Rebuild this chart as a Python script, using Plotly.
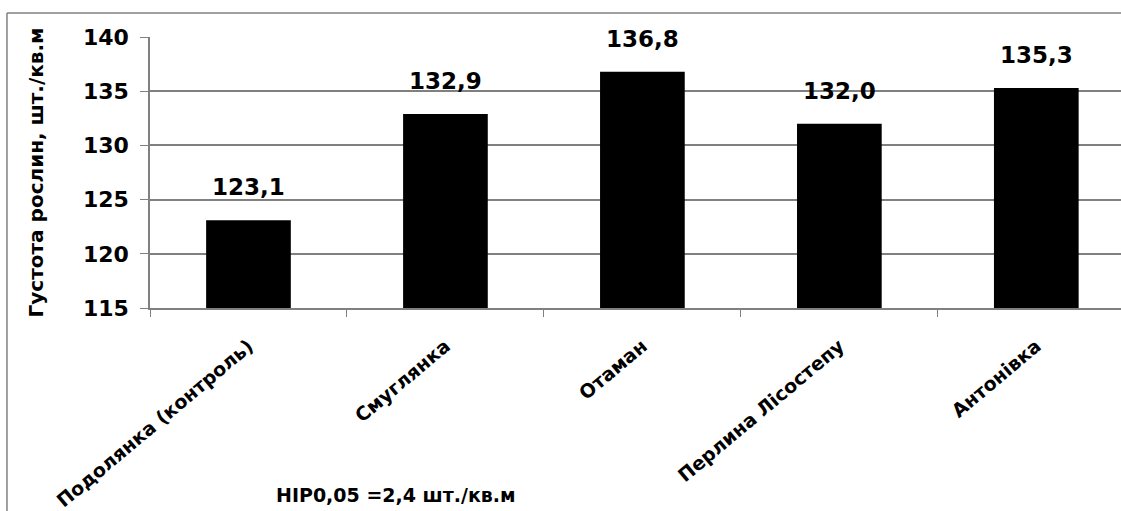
import plotly.graph_objects as go

# Густота рослин за сортами
varieties = [
    "Подолянка (контроль)",
    "Смуглянка",
    "Отаман",
    "Перлина Лісостепу",
    "Антонівка",
]
density = [123.1, 132.9, 136.8, 132.0, 135.3]
y_ticks = [115, 120, 125, 130, 135, 140]
lsd_note = "НІР0,05 =2,4 шт./кв.м"
y_title = "Густота рослин, шт./кв.м"

FONT = "DejaVu Sans"
GREY = "#808080"

fig = go.Figure()
fig.add_trace(go.Bar(
    x=varieties,
    y=density,
    marker=dict(color="#000000", line=dict(width=0)),
    width=0.43,
    showlegend=False,
))

# value labels above each bar
for name, v in zip(varieties, density):
    fig.add_annotation(
        x=name, y=v, xref="x", yref="y",
        text=f"<b>{v:.1f}</b>".replace(".", ","),
        showarrow=False, yanchor="bottom", yshift=18,
        font=dict(family=FONT, size=23, color="#000000"),
    )

# least significant difference note
fig.add_annotation(
    xref="paper", yref="paper", x=0.128, y=-0.69,
    text=f"<b>{lsd_note}</b>", showarrow=False,
    xanchor="left", yanchor="middle",
    font=dict(family=FONT, size=19, color="#000000"),
)

# chart frame (left and top edges)
fig.add_shape(type="line", xref="paper", yref="paper",
              x0=-0.1473, x1=-0.1473, y0=1.0886, y1=-0.76,
              line=dict(color=GREY, width=1.5))
fig.add_shape(type="line", xref="paper", yref="paper",
              x0=-0.1473, x1=1.02, y0=1.0886, y1=1.0886,
              line=dict(color=GREY, width=1.5))

fig.update_layout(
    width=1121, height=511,
    margin=dict(l=150, r=0, t=37, b=203),
    paper_bgcolor="white", plot_bgcolor="white",
    separators=", ",
    font=dict(family=FONT, color="#000000"),
)
fig.update_xaxes(
    range=[-0.5, 4.43],
    showline=True, linecolor=GREY, linewidth=1.5,
    ticks="outside", tickson="boundaries", ticklen=7, tickcolor=GREY,
    tickangle=-40, ticklabelstandoff=18,
    tickfont=dict(family=FONT, size=19, color="#000000", weight="bold"),
    showgrid=False,
)
fig.update_yaxes(
    range=[115, 140],
    tickvals=y_ticks,
    ticktext=[f"<b>{t}</b>" for t in y_ticks],
    showline=True, linecolor=GREY, linewidth=1.5,
    ticks="outside", ticklen=8, tickcolor=GREY,
    ticklabelstandoff=7,
    showgrid=True, gridcolor=GREY, gridwidth=1.5,
    zeroline=False,
    tickfont=dict(family=FONT, size=22, color="#000000"),
    title=dict(text=f"<b>{y_title}</b>", font=dict(family=FONT, size=20, color="#000000"),
               standoff=34),
)

fig.write_html("out.html")
